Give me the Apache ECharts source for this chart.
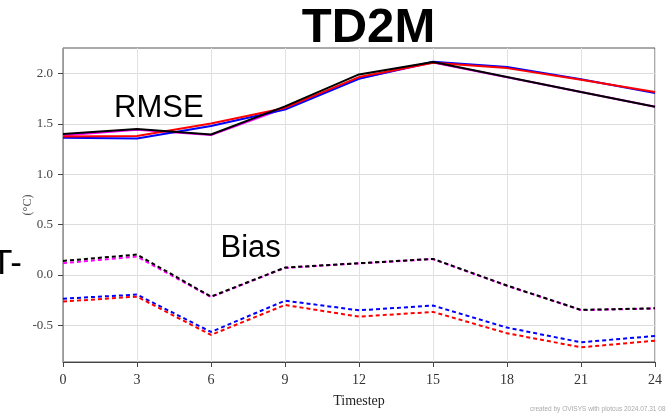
<!DOCTYPE html>
<html>
<head>
<meta charset="utf-8">
<script src="https://cdn.jsdelivr.net/npm/echarts@6/dist/echarts.min.js"></script>
<style>html,body{margin:0;padding:0;background:#fff}#c{width:666px;height:413px}</style>
</head>
<body>
<div id="c"></div>
<script>
const timesteps = [0, 3, 6, 9, 12, 15, 18, 21, 24];
const yTicks = [-0.5, 0, 0.5, 1.0, 1.5, 2.0];

// RMSE (solid)
const rmseBlack   = [1.40, 1.45, 1.396, 1.675, 1.993, 2.116, 1.967, 1.818, 1.672];
const rmseMagenta = [1.386, 1.443, 1.39, 1.66, 1.955, 2.112, 1.965, 1.818, 1.672];
const rmseBlue    = [1.363, 1.356, 1.48, 1.645, 1.95, 2.12, 2.066, 1.945, 1.808];
const rmseRed     = [1.376, 1.38, 1.506, 1.66, 1.967, 2.11, 2.056, 1.94, 1.818];

// Bias (dashed)
const biasBlack   = [0.139, 0.202, -0.216, 0.073, 0.116, 0.159, -0.106, -0.348, -0.332];
const biasMagenta = [0.116, 0.182, -0.22, 0.07, 0.114, 0.157, -0.108, -0.35, -0.334];
const biasBlue    = [-0.236, -0.196, -0.567, -0.256, -0.352, -0.305, -0.524, -0.67, -0.607];
const biasRed     = [-0.265, -0.216, -0.597, -0.299, -0.415, -0.368, -0.58, -0.72, -0.654];

function pairs(vals) { return timesteps.map((t, i) => [t, vals[i]]); }

const rmseSets = [rmseMagenta, rmseBlue, rmseRed, rmseBlack];
const biasSets = [biasMagenta, biasBlue, biasRed, biasBlack];
const drawColors = ['#ff00ff', '#0000ff', '#ff0000', '#000000'];

const series = [];
biasSets.forEach((s, i) => series.push({
  type: 'line', data: pairs(s), symbol: 'none', silent: true,
  lineStyle: { color: drawColors[i], width: 2, type: [4, 3] }
}));
rmseSets.forEach((s, i) => series.push({
  type: 'line', data: pairs(s), symbol: 'none', silent: true,
  lineStyle: { color: drawColors[i], width: 2 }
}));

const chart = echarts.init(document.getElementById('c'), null, { renderer: 'canvas' });
chart.setOption({
  animation: false,
  backgroundColor: '#ffffff',
  grid: { left: 63, right: 11, top: 48, bottom: 51, show: true, borderColor: '#555', borderWidth: 1 },
  xAxis: {
    type: 'value', min: 0, max: 24, interval: 3,
    name: 'Timestep', nameLocation: 'middle', nameGap: 32, nameMoveOverlap: false,
    nameTextStyle: { fontFamily: 'Liberation Serif', fontSize: 14, color: '#222' },
    axisLine: { show: true, onZero: false, lineStyle: { color: '#444', width: 1 } },
    axisTick: { show: true, length: 5, lineStyle: { color: '#444' } },
    axisLabel: { margin: 11, fontFamily: 'Liberation Serif', fontSize: 14, color: '#333' },
    splitLine: { show: true, lineStyle: { color: '#e2e2e2', width: 1 } }
  },
  yAxis: {
    type: 'value', min: -0.866, max: 2.256,
    name: '(°C)', nameLocation: 'middle', nameGap: 29, nameRotate: 90, nameMoveOverlap: false,
    nameTextStyle: { fontFamily: 'Liberation Serif', fontSize: 12, color: '#555' },
    axisLine: { show: true, lineStyle: { color: '#999', width: 1 } },
    axisTick: { show: true, length: 5, lineStyle: { color: '#444' }, customValues: yTicks },
    axisLabel: { margin: 10, fontFamily: 'Liberation Serif', fontSize: 13, color: '#444',
      customValues: yTicks, formatter: v => v.toFixed(1) },
    splitLine: { show: true, lineStyle: { color: '#dcdcdc', width: 1 } }
  },
  series: series
});

const zr = chart.getZr();
function addText(txt, x, y, font, fill, align) {
  zr.add(new echarts.graphic.Text({ silent: true, z: 100, style: { text: txt, x: x, y: y, font: font, fill: fill, align: align || 'left', verticalAlign: 'middle' } }));
}
addText('TD2M', 368.5, 28, 'bold 49px "Liberation Sans", Arial, sans-serif', '#000', 'center');
addText('RMSE', 114, 108, '31px "Liberation Sans", Arial, sans-serif', '#000');
addText('Bias', 220.5, 248, '31px "Liberation Sans", Arial, sans-serif', '#000');
addText('T-', 22, 264, '35px "Liberation Sans", Arial, sans-serif', '#000', 'right');
addText('created by OVISYS with plotcus 2024.07.31 08:32:29', 530, 409, '6.5px "Liberation Sans", sans-serif', '#aaa');
</script>
</body>
</html>
